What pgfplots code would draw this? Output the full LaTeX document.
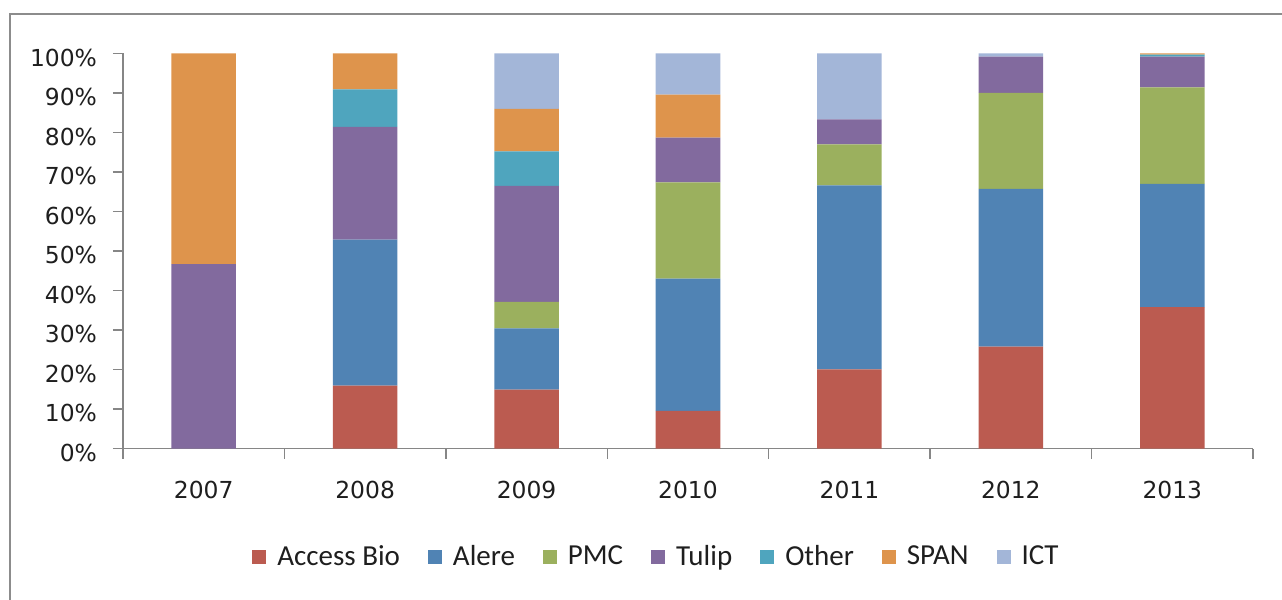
\documentclass[border=0pt]{standalone}
\usepackage{fontspec}
\setmainfont{DejaVu Sans}
\newfontfamily\legfont{Carlito}
\usepackage{pgfplots}
\usepackage{pgfplotstable}
\pgfplotsset{compat=1.18}
\definecolor{cAB}{RGB}{187,91,80}
\definecolor{cAL}{RGB}{80,131,180}
\definecolor{cPMC}{RGB}{155,176,94}
\definecolor{cTU}{RGB}{130,106,158}
\definecolor{cOT}{RGB}{79,165,190}
\definecolor{cSP}{RGB}{222,148,76}
\definecolor{cICT}{RGB}{163,182,216}
\definecolor{axgray}{RGB}{134,134,134}
\definecolor{framegray}{RGB}{140,140,140}
\definecolor{txt}{RGB}{30,30,30}
\pgfplotstableread{
x AB AL PMC TU OT SP ICT
0 0 0 0 46.7 0 53.3 0
1 15.9 37.0 0 28.5 9.5 9.1 0
2 14.9 15.5 6.7 29.4 8.7 10.8 14.0
3 9.5 33.5 24.4 11.3 0 10.9 10.4
4 20.0 46.6 10.4 6.3 0 0 16.7
5 25.8 39.9 24.3 9.2 0 0 0.8
6 35.8 31.2 24.4 7.8 0.5 0.3 0
}\shares
\begin{document}
\begin{tikzpicture}
\path[use as bounding box] (-61.5bp,-75.75bp) rectangle (579.5bp,224.25bp);
\draw[line width=0.75bp, color=framegray] (600bp,217.25bp) -- (-56.5bp,217.25bp) -- (-56.5bp,-100bp);
\begin{axis}[
  at={(0,0)}, anchor=south west,
  scale only axis, width=565bp, height=197.5bp,
  xmin=-0.5, xmax=6.5, ymin=0, ymax=100,
  ybar stacked, bar width=0.4,
  axis x line*=bottom, axis y line*=left,
  axis line style={draw=axgray, line width=0.75bp},
  xtick={0,...,6}, xticklabels={2007,2008,2009,2010,2011,2012,2013},
  minor xtick={-0.5,0.5,...,6.5},
  major x tick style={draw=none},
  minor x tick style={draw=axgray, line width=0.75bp},
  ytick={0,10,...,100},
  yticklabels={0\%,10\%,20\%,30\%,40\%,50\%,60\%,70\%,80\%,90\%,100\%},
  y tick style={draw=axgray, line width=0.75bp},
  tick align=outside, major tick length=5bp, minor tick length=5bp,
  ticklabel style={font=\fontsize{11.7bp}{13.5bp}\selectfont, text=txt},
  xticklabel style={yshift=-8bp},
  yticklabel style={xshift=-4.5bp, yshift=-2bp},
  legend columns=7,
  legend style={at={(0.1088,-0.2740)}, anchor=west, draw=none, fill=none,
    font=\legfont\fontsize{14.5bp}{16bp}\selectfont, text=txt,
    /tikz/every odd column/.append style={column sep=3.5bp},
    /tikz/every even column/.append style={column sep=12bp}},
  mylegend/.style={legend image code/.code={\fill[##1,draw=none] (0bp,-3.5bp) rectangle (7bp,3.5bp);}},
]
\addplot[fill=cAB, draw=none, mylegend] table[x=x,y=AB]{\shares};
\addplot[fill=cAL, draw=none, mylegend] table[x=x,y=AL]{\shares};
\addplot[fill=cPMC, draw=none, mylegend] table[x=x,y=PMC]{\shares};
\addplot[fill=cTU, draw=none, mylegend] table[x=x,y=TU]{\shares};
\addplot[fill=cOT, draw=none, mylegend] table[x=x,y=OT]{\shares};
\addplot[fill=cSP, draw=none, mylegend] table[x=x,y=SP]{\shares};
\addplot[fill=cICT, draw=none, mylegend] table[x=x,y=ICT]{\shares};
\legend{Access Bio,Alere,PMC,Tulip,Other,SPAN,ICT}
\end{axis}
\end{tikzpicture}
\end{document}
